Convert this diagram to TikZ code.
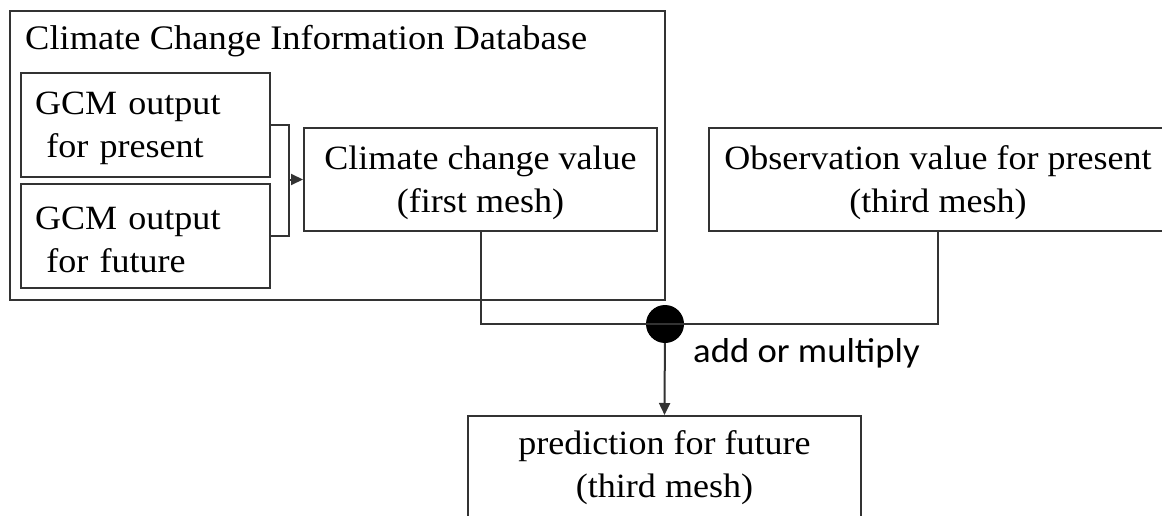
\documentclass[tikz,border=0pt]{standalone}
\usepackage{fontspec}
\setmainfont{Liberation Serif}[FakeStretch=1.06]
\newfontfamily\labelfont{Carlito}[FakeStretch=1.06]
\usetikzlibrary{positioning, arrows.meta}
\newcommand{\topgap}{\rule{0pt}{30pt}}

\begin{document}
\begin{tikzpicture}[x=1pt, y=-1pt, >={Triangle[length=12pt, width=11pt]},
    box/.style={draw=black!80, line width=2pt, inner sep=0pt,
        font=\fontsize{34}{43}\selectfont, align=center},
    wire/.style={draw=black!80, line width=2pt}]
    \clip (0,0) rectangle (1162,516);
    % Database frame
    \node[box, minimum width=655pt, minimum height=289pt] (db) at (337.5,155.5) {};
    \node[anchor=base west, inner sep=0pt, font=\fontsize{34.4}{43}\selectfont] (dbtitle) at (25,50) {Climate Change Information Database};
    % GCM outputs
    \node[box, align=left, text width=221pt, inner xsep=14pt, minimum height=104pt] (gcmpres) at (145.5,125) {\topgap GCM output\\~for present};
    \node[box, align=left, text width=221pt, inner xsep=14pt, minimum height=104pt] (gcmfut) at (145.5,236) {\topgap GCM output\\~for future};
    % Values
    \node[box, minimum width=353pt, minimum height=103pt] (ccv) at (480.5,179.5) {\topgap Climate change value\\(first mesh)};
    \node[box, minimum width=458pt, minimum height=103pt] (obs) at (938,179.5) {\topgap Observation value for present\\(third mesh)};
    \node[box, minimum width=393pt, minimum height=104pt] (pred) at (664.5,468) {prediction for future\\(third mesh)};
    % Combination point
    \node[circle, fill=black, minimum size=38pt, inner sep=0pt] (op) at (665,324) {};
    \node[anchor=base west, inner sep=0pt, font=\labelfont\fontsize{34.6}{42}\selectfont] (oplabel) at (693,362) {add or multiply};
    % Connectors
    \draw[wire] (gcmpres.east) -- ++(18,0) |- (gcmfut.east);
    \coordinate (brk) at (288,179.5);
    \draw[wire, ->] (brk) -- (ccv.west);
    \draw[wire] (ccv.south) |- (op.center);
    \draw[wire] (obs.south) |- (op.center);
    \draw[wire, ->] (op) -- (pred.north);
\end{tikzpicture}
\end{document}
